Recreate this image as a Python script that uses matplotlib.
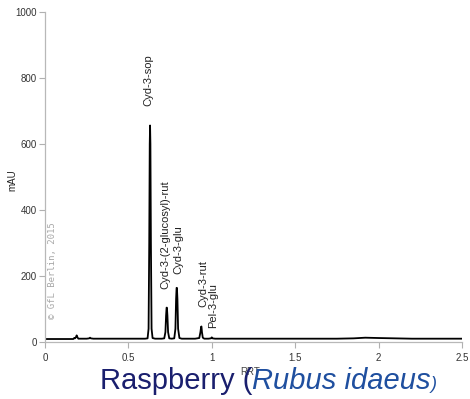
import matplotlib
matplotlib.use("Agg")
import matplotlib.pyplot as plt

# chromatogram trace (RRT, mAU)
rrt = [0.00, 0.15, 0.17, 0.175, 0.18, 0.185, 0.19, 0.195, 0.20, 0.21, 0.25, 0.265, 0.27, 0.275, 0.29,
       0.40, 0.55, 0.60, 0.615, 0.621, 0.625, 0.628, 0.630, 0.632, 0.635, 0.639, 0.645, 0.66,
       0.70, 0.715, 0.722, 0.726, 0.729, 0.731, 0.734, 0.738, 0.745, 0.76,
       0.775, 0.782, 0.786, 0.789, 0.791, 0.794, 0.798, 0.806, 0.82,
       0.90, 0.925, 0.932, 0.936, 0.938, 0.941, 0.946, 0.955, 0.98, 0.995, 1.0, 1.005, 1.02,
       1.20, 1.50, 1.75, 1.85, 1.92, 2.00, 2.20, 2.50]
mau = [9, 9, 9, 12, 11, 14, 20, 14, 10, 10, 10, 11, 13, 11, 10,
       10, 10, 10, 11, 40, 300, 600, 656, 600, 300, 40, 12, 10,
       10, 11, 30, 80, 104, 104, 80, 30, 11, 10,
       11, 40, 130, 164, 164, 130, 40, 12, 10,
       10, 12, 30, 46, 47, 30, 13, 10, 10, 11, 14, 11, 10,
       10, 10, 10, 11, 13, 12, 10, 10]

peak_labels = ["Cyd-3-sop", "Cyd-3-(2-glucosyl)-rut", "Cyd-3-glu", "Cyd-3-rut", "Pel-3-glu"]
peak_label_x = [0.620, 0.722, 0.802, 0.952, 1.005]
peak_label_y = [715, 162, 205, 107, 42]

xticks = [0, 0.5, 1, 1.5, 2, 2.5]
xticklabels = ["0", "0.5", "1", "1.5", "2", "2.5"]
yticks = [0, 200, 400, 600, 800, 1000]

plt.rcParams['font.family'] = ['Liberation Sans', 'DejaVu Sans']

fig = plt.figure(figsize=(4.70, 3.99), dpi=100)
ax = fig.add_axes([0.0957, 0.1429, 0.8873, 0.8271])

ax.plot(rrt, mau, color='black', lw=1.3)

ax.set_xlim(0, 2.5)
ax.set_ylim(0, 1000)
ax.set_xticks(xticks)
ax.set_xticklabels(xticklabels)
ax.set_yticks(yticks)
for s in ['top', 'right']:
    ax.spines[s].set_visible(False)
for s in ['left', 'bottom']:
    ax.spines[s].set_color('#b8b8b8')
    ax.spines[s].set_linewidth(0.9)
ax.tick_params(axis='both', colors='#b0b0b0', labelcolor='#333333', labelsize=7, length=4, width=0.8)
ax.tick_params(axis='y', pad=2)
ax.tick_params(axis='x', pad=4)

# y label
fig.text(12 / 470, 1 - 180 / 399, "mAU", rotation=90, fontsize=7, color='#222222', ha='center', va='center')

for lab, x, y in zip(peak_labels, peak_label_x, peak_label_y):
    ax.text(x, y, lab, rotation=90, ha='center', va='bottom', fontsize=8, color='#222222')

# watermark
ax.text(0.018, 0.07, "\u00a9 GfL Berlin, 2015", rotation=90, transform=ax.transAxes,
        ha='center', va='bottom', fontsize=6.5, color='#a8a8a8', family='DejaVu Sans Mono')

# RRT label
fig.text(250 / 470, 1 - 372 / 399, "RRT", fontsize=7, color='#444444', ha='center', va='center')

# title made of pieces
fig.canvas.draw()
renderer = fig.canvas.get_renderer()
x0 = 100 / 470
yb = 1 - 389 / 399
pieces = [("Raspberry (", '#1a1f6e', 'normal', 21),
          ("Rubus idaeus", '#1f4f9f', 'italic', 21),
          (")", '#1f4f9f', 'italic', 13)]
for txt, col, style, fs in pieces:
    t = fig.text(x0, yb, txt, color=col, style=style, fontsize=fs, ha='left', va='baseline')
    bb = t.get_window_extent(renderer)
    x0 = bb.x1 / fig.bbox.width

fig.savefig("out.png", dpi=100)
